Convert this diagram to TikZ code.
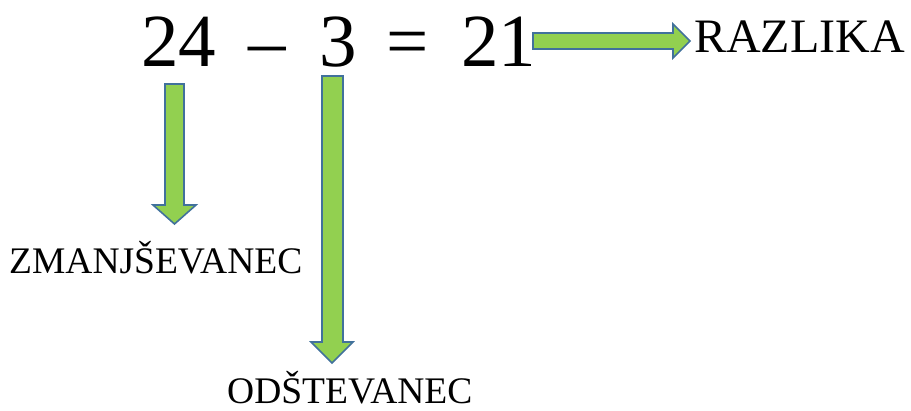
\documentclass[tikz,border=0pt]{standalone}
\usepackage{fontspec}
\setmainfont{Liberation Serif}
\definecolor{arrowfill}{HTML}{92D050}
\definecolor{arrowline}{HTML}{41719C}
\tikzset{
  blockarrow/.style={fill=arrowfill, draw=arrowline, line width=1.6pt, line join=miter},
  bigtext/.style={inner sep=0pt, anchor=base west, font=\fontsize{75}{75}\selectfont},
  labeltext/.style={inner sep=0pt, anchor=base west, font=\fontsize{37.5}{37.5}\selectfont},
}
\begin{document}
\begin{tikzpicture}[x=1pt,y=-1pt]
\useasboundingbox (0,0) rectangle (911,410);
% equation
\node[bigtext] (a) at (141,66) {24};
\node[bigtext] (minus) at (248,66) {–};
\node[bigtext] (b) at (319,66) {3};
\node[bigtext] (eq) at (386,66) {=};
\node[bigtext] (c) at (461,66) {21};
% labels
\node[labeltext, font=\fontsize{48}{48}\selectfont] (razlika) at (694,52) {RAZLIKA};
\node[labeltext] (zman) at (9,273) {ZMANJŠEVANEC};
\node[labeltext] (odst) at (227,403) {ODŠTEVANEC};
% block arrows
\draw[blockarrow] (165,84) -- (184,84) -- (184,205) -- (196,205) -- (174.5,224) -- (153,205) -- (165,205) -- cycle;
\draw[blockarrow] (322,76) -- (343,76) -- (343,342) -- (353,342) -- (332,363) -- (311,342) -- (322,342) -- cycle;
\draw[blockarrow] (533,33) -- (673,33) -- (673,24) -- (690,41) -- (673,58) -- (673,49) -- (533,49) -- cycle;
\end{tikzpicture}
\end{document}
